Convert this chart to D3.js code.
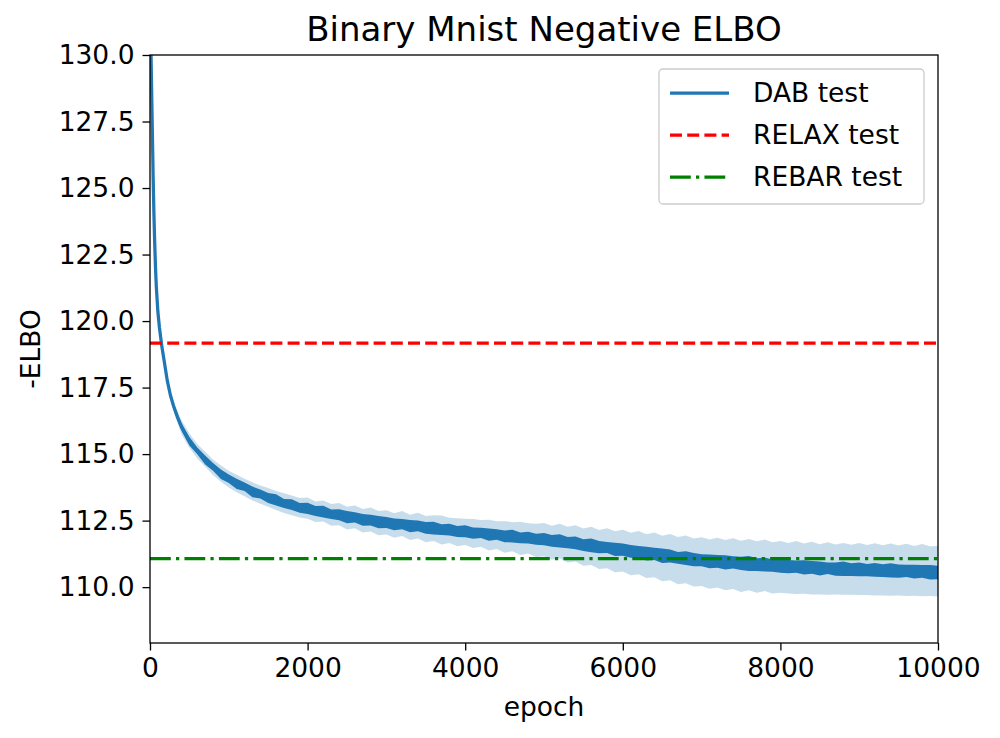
<!DOCTYPE html>
<html>
<head>
<meta charset="utf-8">
<script src="https://cdn.jsdelivr.net/npm/d3@7"></script>
<style>
  body { margin: 0; background: #fff; }
  text { font-family: "DejaVu Sans", sans-serif; fill: #000; }
  .axis text { font-size: 26.5px; }
  .axis path, .axis line { stroke: #000; stroke-width: 1.3px; }
</style>
</head>
<body>
<div id="chart"></div>
<script>
/////////////////////////////////////
///      DATA
/////////////////////////////////////

var epochs = [0, 10, 20, 30, 40, 50, 60, 70, 80, 100, 120, 150, 180, 220, 260, 300, 350,
  400, 500, 600, 700, 800, 900, 1000,
  1100, 1200, 1300, 1400, 1500, 1600, 1700, 1800, 1900, 2000,
  2100, 2200, 2300, 2400, 2500, 2600, 2700, 2800, 2900, 3000,
  3100, 3200, 3300, 3400, 3500, 3600, 3700, 3800, 3900, 4000,
  4100, 4200, 4300, 4400, 4500, 4600, 4700, 4800, 4900, 5000,
  5100, 5200, 5300, 5400, 5500, 5600, 5700, 5800, 5900, 6000,
  6100, 6200, 6300, 6400, 6500, 6600, 6700, 6800, 6900, 7000,
  7100, 7200, 7300, 7400, 7500, 7600, 7700, 7800, 7900, 8000,
  8100, 8200, 8300, 8400, 8500, 8600, 8700, 8800, 8900, 9000,
  9100, 9200, 9300, 9400, 9500, 9600, 9700, 9800, 9900, 10000];

// DAB test -ELBO (running line)
var dabMean = [133.0, 130.6, 128.8, 127.1, 125.4, 124.0, 122.9, 122.0, 121.3, 120.35, 119.75, 119.05, 118.5, 117.75, 117.2, 116.8, 116.38,
  116.02, 115.48, 115.12, 114.78, 114.52, 114.24, 114.07,
  113.88, 113.77, 113.58, 113.5, 113.35, 113.28, 113.14, 113.1, 112.98, 112.96,
  112.86, 112.84, 112.74, 112.72, 112.63, 112.62, 112.53, 112.52, 112.44, 112.43,
  112.36, 112.37, 112.29, 112.3, 112.23, 112.22, 112.16, 112.16, 112.09, 112.1,
  112.03, 112.04, 111.97, 111.98, 111.91, 111.92, 111.85, 111.86, 111.8, 111.8,
  111.74, 111.74, 111.67, 111.66, 111.58, 111.57, 111.5, 111.49, 111.42, 111.41,
  111.34, 111.33, 111.26, 111.25, 111.18, 111.17, 111.1, 111.09, 111.03, 111.01,
  110.97, 110.97, 110.93, 110.93, 110.89, 110.89, 110.85, 110.85, 110.81, 110.81,
  110.77, 110.77, 110.74, 110.74, 110.7, 110.71, 110.68, 110.69, 110.66, 110.67,
  110.64, 110.65, 110.62, 110.63, 110.6, 110.61, 110.58, 110.59, 110.56, 110.55];

// half thickness of the noisy dark line
var dabSpread = [0, 0, 0, 0, 0.01, 0.02, 0.03, 0.04, 0.05, 0.06, 0.07, 0.08, 0.09, 0.1, 0.11, 0.12, 0.13,
  0.14, 0.16, 0.13, 0.17, 0.15, 0.18, 0.16,
  0.19, 0.16, 0.2, 0.17, 0.19, 0.21, 0.17, 0.2, 0.18, 0.21,
  0.19, 0.22, 0.18, 0.21, 0.23, 0.19, 0.22, 0.2, 0.23, 0.21,
  0.22, 0.19, 0.23, 0.2, 0.22, 0.24, 0.2, 0.22, 0.21, 0.23,
  0.21, 0.19, 0.23, 0.2, 0.22, 0.24, 0.2, 0.22, 0.21, 0.23,
  0.22, 0.25, 0.21, 0.24, 0.22, 0.26, 0.23, 0.21, 0.25, 0.23,
  0.24, 0.22, 0.26, 0.23, 0.27, 0.24, 0.22, 0.26, 0.25, 0.23,
  0.26, 0.24, 0.27, 0.23, 0.25, 0.28, 0.24, 0.26, 0.23, 0.27,
  0.25, 0.23, 0.27, 0.24, 0.26, 0.22, 0.25, 0.27, 0.24, 0.26,
  0.23, 0.26, 0.24, 0.27, 0.25, 0.23, 0.26, 0.24, 0.27, 0.25];

// shaded band, offsets above / below the line
var bandUp = [0, 0, 0, 0, 0.02, 0.04, 0.05, 0.06, 0.07, 0.09, 0.1, 0.12, 0.14, 0.16, 0.18, 0.2, 0.22,
  0.25, 0.29, 0.26, 0.31, 0.28, 0.33, 0.3,
  0.34, 0.3, 0.36, 0.32, 0.38, 0.33, 0.39, 0.34, 0.37, 0.41,
  0.36, 0.42, 0.38, 0.44, 0.39, 0.45, 0.41, 0.47, 0.42, 0.46,
  0.42, 0.49, 0.43, 0.5, 0.44, 0.48, 0.53, 0.45, 0.5, 0.47,
  0.53, 0.48, 0.56, 0.5, 0.57, 0.52, 0.61, 0.54, 0.58, 0.61,
  0.57, 0.64, 0.6, 0.67, 0.62, 0.7, 0.65, 0.72, 0.68, 0.75,
  0.7, 0.78, 0.73, 0.8, 0.75, 0.83, 0.78, 0.85, 0.8, 0.86,
  0.82, 0.89, 0.84, 0.91, 0.85, 0.92, 0.87, 0.94, 0.88, 0.92,
  0.89, 0.96, 0.9, 0.97, 0.91, 0.98, 0.92, 0.97, 0.93, 0.99,
  0.94, 1.0, 0.95, 1.01, 0.96, 1.02, 0.97, 1.03, 0.98, 1.0];

var bandDown = [0, 0, 0, 0, 0.02, 0.04, 0.05, 0.06, 0.07, 0.09, 0.1, 0.12, 0.14, 0.16, 0.18, 0.2, 0.22,
  0.27, 0.24, 0.29, 0.26, 0.31, 0.28, 0.33,
  0.31, 0.35, 0.32, 0.37, 0.33, 0.38, 0.35, 0.4, 0.36, 0.39,
  0.41, 0.37, 0.43, 0.39, 0.46, 0.41, 0.48, 0.43, 0.49, 0.45,
  0.5, 0.45, 0.52, 0.47, 0.54, 0.49, 0.56, 0.5, 0.55, 0.52,
  0.56, 0.52, 0.59, 0.55, 0.62, 0.57, 0.64, 0.6, 0.67, 0.64,
  0.7, 0.66, 0.74, 0.7, 0.78, 0.74, 0.82, 0.78, 0.86, 0.82,
  0.89, 0.85, 0.92, 0.88, 0.96, 0.91, 0.99, 0.94, 1.01, 0.97,
  1.03, 0.98, 1.05, 1.0, 1.07, 1.01, 1.06, 1.0, 1.05, 1.02,
  1.01, 1.03, 0.99, 1.02, 0.98, 1.0, 0.96, 0.98, 0.95, 0.97,
  0.94, 0.96, 0.93, 0.95, 0.91, 0.94, 0.9, 0.93, 0.89, 0.9];

var relaxTest = 119.17;
var rebarTest = 111.07;

var xTicks = [0, 2000, 4000, 6000, 8000, 10000];
var yTicks = [110, 112.5, 115, 117.5, 120, 122.5, 125, 127.5, 130];

var legendNames = ["DAB test", "RELAX test", "REBAR test"];

/////////////////////////////////////
///      CHART
/////////////////////////////////////

var width = 1000, height = 738;
var margin = {top: 55, right: 62, bottom: 95, left: 150};
var w = width - margin.left - margin.right,
    h = height - margin.top - margin.bottom;

var x = d3.scaleLinear().domain([0, 10000]).range([0, w]);
var y = d3.scaleLinear().domain([107.9, 130]).range([h, 0]);

var svg = d3.select("#chart").append("svg")
    .attr("width", width)
    .attr("height", height);

var g = svg.append("g").attr("transform", "translate(" + margin.left + "," + margin.top + ")");

g.append("defs").append("clipPath")
    .attr("id", "clip")
    .append("rect")
    .attr("width", w)
    .attr("height", h);

var pts = epochs.map(function(e, i) {
  return {e: e, m: dabMean[i], s: dabSpread[i], up: bandUp[i], dn: bandDown[i]};
});

var plot = g.append("g").attr("clip-path", "url(#clip)");

// shaded band
plot.append("path")
    .datum(pts)
    .attr("fill", "#1f77b4")
    .attr("fill-opacity", 0.25)
    .attr("d", d3.area()
      .x(function(d) { return x(d.e); })
      .y0(function(d) { return y(d.m - d.dn); })
      .y1(function(d) { return y(d.m + d.up); }));

// noisy dark line envelope
plot.append("path")
    .datum(pts)
    .attr("fill", "#1f77b4")
    .attr("d", d3.area()
      .x(function(d) { return x(d.e); })
      .y0(function(d) { return y(d.m - d.s); })
      .y1(function(d) { return y(d.m + d.s); }));

plot.append("path")
    .datum(pts)
    .attr("fill", "none")
    .attr("stroke", "#1f77b4")
    .attr("stroke-width", 3.25)
    .attr("d", d3.line()
      .x(function(d) { return x(d.e); })
      .y(function(d) { return y(d.m); }));

// RELAX / REBAR reference lines
plot.append("line")
    .attr("x1", x(0)).attr("x2", x(10000))
    .attr("y1", y(relaxTest)).attr("y2", y(relaxTest))
    .attr("stroke", "#ff0000")
    .attr("stroke-width", 3.25)
    .attr("stroke-dasharray", "12,5.2");

plot.append("line")
    .attr("x1", x(0)).attr("x2", x(10000))
    .attr("y1", y(rebarTest)).attr("y2", y(rebarTest))
    .attr("stroke", "#008000")
    .attr("stroke-width", 3.25)
    .attr("stroke-dasharray", "20.8,5.2,3.25,5.2");

// axes
g.append("g")
    .attr("class", "axis axis--x")
    .attr("transform", "translate(0," + h + ")")
    .call(d3.axisBottom(x).tickValues(xTicks).tickFormat(d3.format("d")).tickSize(7.5).tickPadding(8));

g.append("g")
    .attr("class", "axis axis--y")
    .call(d3.axisLeft(y).tickValues(yTicks).tickFormat(d3.format(".1f")).tickSize(7.5).tickPadding(8));

g.selectAll(".axis .domain").remove();

g.append("rect")
    .attr("width", w)
    .attr("height", h)
    .attr("fill", "none")
    .attr("stroke", "#000")
    .attr("stroke-width", 1.3);

// labels
svg.append("text")
    .attr("x", margin.left + w / 2)
    .attr("y", 41)
    .attr("text-anchor", "middle")
    .style("font-size", "34px")
    .text("Binary Mnist Negative ELBO");

svg.append("text")
    .attr("x", margin.left + w / 2)
    .attr("y", 716)
    .attr("text-anchor", "middle")
    .style("font-size", "26.5px")
    .text("epoch");

svg.append("text")
    .attr("transform", "translate(40," + (margin.top + h / 2) + ") rotate(-90)")
    .attr("text-anchor", "middle")
    .style("font-size", "26.5px")
    .text("-ELBO");

/////////////////////////////////////
///      LEGEND
/////////////////////////////////////

var legend = svg.append("g").attr("transform", "translate(659,69)");

legend.append("rect")
    .attr("width", 265)
    .attr("height", 135)
    .attr("rx", 4)
    .attr("fill", "#fff")
    .attr("fill-opacity", 0.8)
    .attr("stroke", "#cccccc")
    .attr("stroke-width", 1.3);

var legendStyles = [
  {color: "#1f77b4", dash: null},
  {color: "#ff0000", dash: "12,5.2"},
  {color: "#008000", dash: "20.8,5.2,3.25,5.2"}
];

legendNames.forEach(function(name, i) {
  var yy = 24 + i * 42;
  legend.append("line")
      .attr("x1", 11).attr("x2", 70)
      .attr("y1", yy).attr("y2", yy)
      .attr("stroke", legendStyles[i].color)
      .attr("stroke-width", 3.25)
      .attr("stroke-dasharray", legendStyles[i].dash);
  legend.append("text")
      .attr("x", 94)
      .attr("y", yy)
      .attr("dy", "0.35em")
      .style("font-size", "26.5px")
      .text(name);
});
</script>
</body>
</html>
